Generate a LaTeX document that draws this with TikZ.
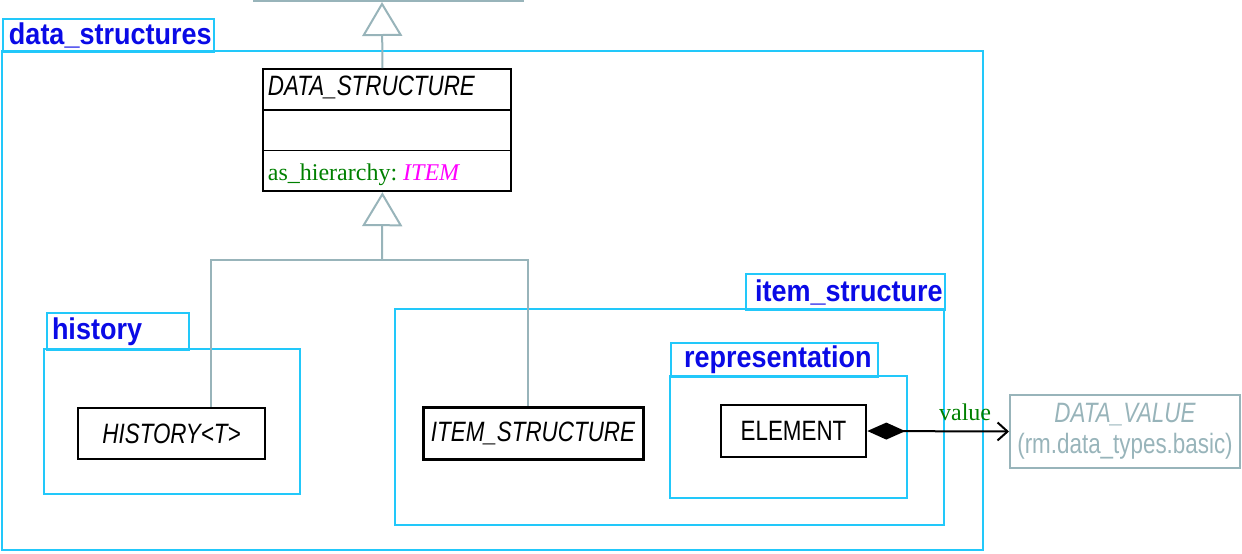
\documentclass[tikz,border=0pt]{standalone}
\usepackage{fontspec}
\setmainfont{Liberation Sans}
\newfontfamily\umlserif{Liberation Serif}
\newfontfamily\umlsans[FakeStretch=0.8]{Liberation Sans}
\newfontfamily\pkgfont[FakeStretch=0.9]{Liberation Sans}
\usetikzlibrary{arrows.meta,shapes.multipart,positioning,calc}
\usepackage{xcolor}
\definecolor{pkgline}{RGB}{34,200,250}
\definecolor{pkgblue}{RGB}{10,10,230}
\definecolor{umlgray}{RGB}{152,180,186}
\definecolor{attrgreen}{RGB}{0,128,0}
\definecolor{typemagenta}{RGB}{255,0,255}
\newcommand{\rowstrut}{\rule[-6.5pt]{0pt}{19.5pt}}
\newcommand{\attrstrut}{\rule[-5pt]{0pt}{19.5pt}}

\begin{document}
\begin{tikzpicture}[x=0.5pt, y=-0.5pt,
            pkg/.style = {draw = pkgline, line width = 1pt},
            pkgtab/.style = {pkg, anchor = north west, inner xsep = 3pt, inner ysep = 0pt,
                align = left, text = pkgblue, font = \pkgfont\bfseries\fontsize{15}{16}\selectfont},
            umlclass/.style = {draw, line width = 1.3pt, inner sep = 0pt,
                font = \umlsans\fontsize{14}{15.5}\selectfont},
            graybox/.style = {umlclass, draw = umlgray, text = umlgray, line width = 1pt},
            genline/.style = {draw = umlgray, line width = 1pt},
            gentip/.style = {-{Triangle[open, length = 17pt, width = 20pt, fill = white]}},
            comp/.style = {draw, line width = 1pt,
                {Diamond[length = 19pt, width = 8.5pt]}-{Straight Barb[length = 5pt, width = 9pt]}}
            ]
            \useasboundingbox (0,0) rectangle (1242,553);

            % packages
            \draw[pkg] (2,51) rectangle (983,550);
            \node[pkgtab, text width = 99.5pt, minimum height = 16.5pt] (dstab) at (2,18) {data\_structures};
            \draw[pkg] (44,349) rectangle (300,494);
            \node[pkgtab, inner xsep = 2.5pt, text width = 66pt, minimum height = 18.5pt] (histtab) at (46,312) {history};
            \draw[pkg] (395,309) rectangle (944,525);
            \node[pkgtab, inner xsep = 4.5pt, text width = 90.5pt, minimum height = 18pt] (itemtab) at (745,273) {item\_structure};
            \draw[pkg] (670,376) rectangle (907,498);
            \node[pkgtab, inner xsep = 6.5pt, text width = 90.5pt, minimum height = 17pt] (reptab) at (670,342) {representation};

            % classes
            \node[graybox, minimum width = 134.5pt, minimum height = 20pt, anchor = south] (parent) at (388.5,2) {};
            \node[umlclass, line width = 0.9pt, rectangle split, rectangle split parts = 3,
                text width = 119pt, align = left, inner xsep = 2.5pt, anchor = north west] (ds) at (262,68)
                {\rowstrut\itshape DATA\_STRUCTURE
                \nodepart{two}\rowstrut
                \nodepart{three}\attrstrut\umlserif\fontsize{12}{14}\selectfont
                    {\color{attrgreen}as\_hierarchy:}\hspace{3pt}{\color{typemagenta}\itshape ITEM}};
            \node[umlclass, minimum width = 93.5pt, minimum height = 25.5pt] (hist) at (171.5,433.5) {\itshape HISTORY<T>};
            \node[umlclass, line width = 1.5pt, minimum width = 110pt, minimum height = 26pt] (itemst) at (533,433) {\itshape ITEM\_STRUCTURE};
            \node[umlclass, minimum width = 72.5pt, minimum height = 26pt] (elem) at (793.5,431) {ELEMENT};
            \node[graybox, align = center, minimum width = 115pt, minimum height = 36.5pt] (dv) at (1125,431.5)
                {{\itshape DATA\_VALUE}\\(rm.data\_types.basic)};

            % inheritance
            \coordinate (fork) at (382,260);
            \draw[genline, gentip] ([xshift = -2.25pt]ds.north) -- ([xshift = -3.25pt]parent.south);
            \draw[genline, gentip] (fork) -- ([xshift = -2.25pt]ds.south);
            \draw[genline] ([xshift = 19.75pt]hist.north) |- (fork) -| ([xshift = -2.5pt]itemst.north);

            % composition
            \draw[comp] (elem.east) -- (dv.west)
                node[pos = 0.69, above, inner sep = 5pt, text = attrgreen,
                    font = \umlserif\fontsize{12}{14}\selectfont] {value};
        \end{tikzpicture}
\end{document}
